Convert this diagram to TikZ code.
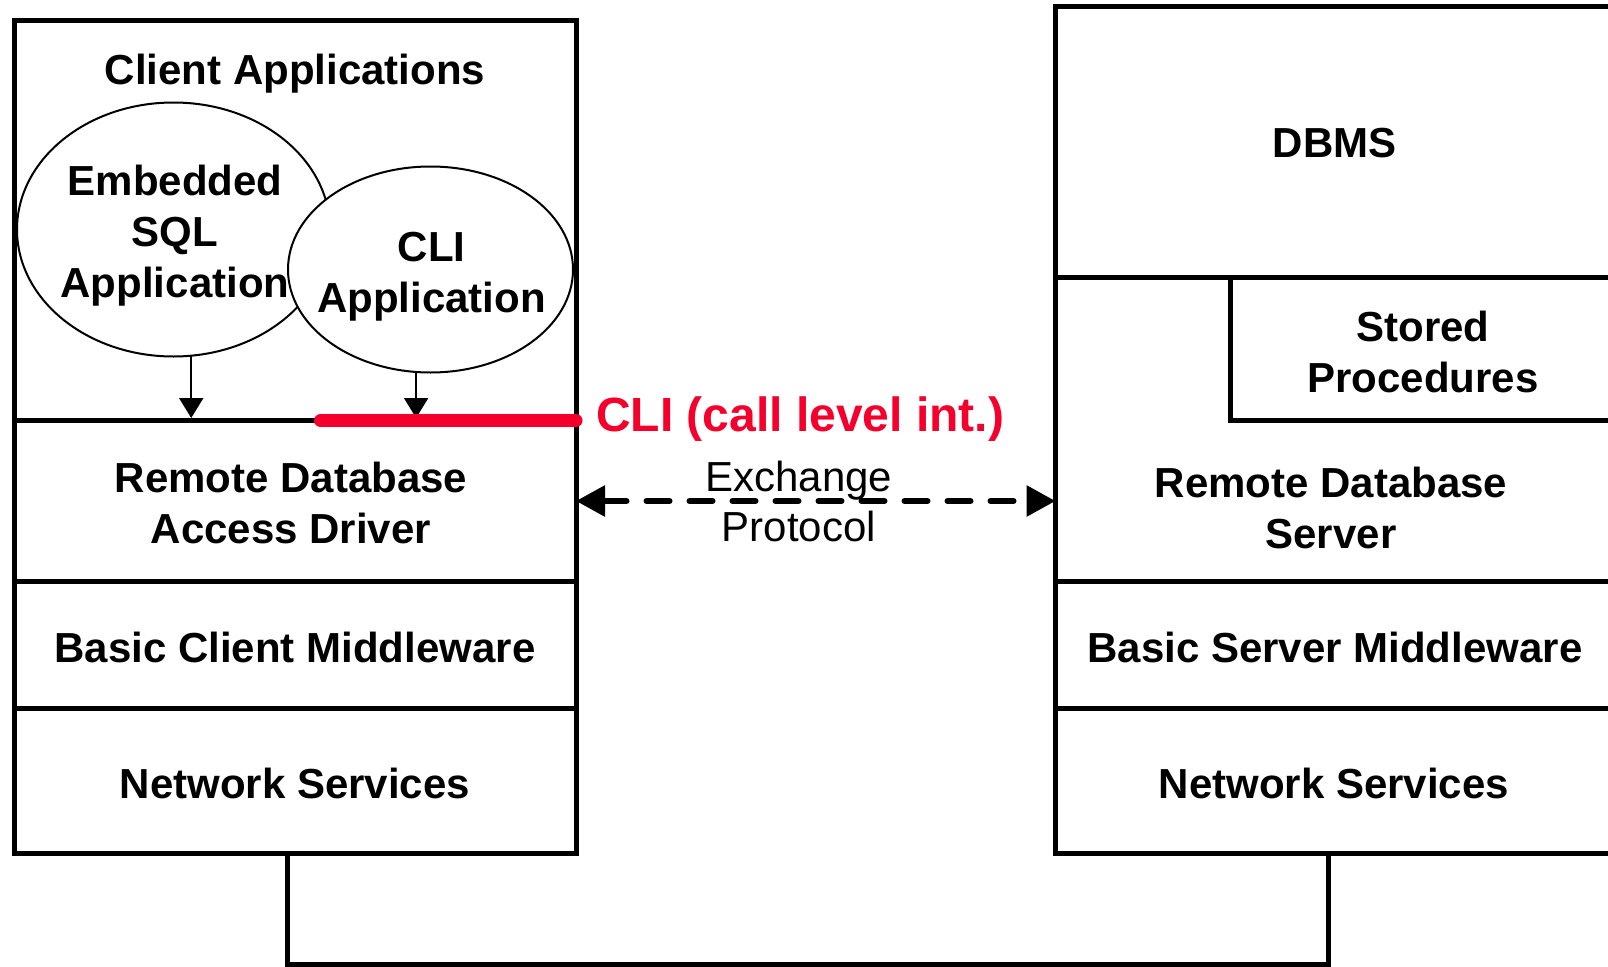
\documentclass[tikz,border=0pt]{standalone}
\usepackage{fontspec}
\setmainfont{Liberation Sans}
\usetikzlibrary{arrows.meta,shapes.geometric,calc}
\definecolor{clired}{RGB}{245,0,45}
\begin{document}
\begin{tikzpicture}[x=1pt,y=-1pt,
  layer/.style={draw, line width=5pt, rectangle, inner sep=0pt, outer sep=0pt},
  app/.style={draw, ellipse, line width=2pt, fill=white, inner sep=0pt, outer sep=0pt},
  lbl/.style={font=\bfseries\fontsize{42}{51}\selectfont, align=center, inner sep=0pt, anchor=north},
  plainlbl/.style={font=\fontsize{42}{50}\selectfont, align=center, inner sep=0pt, anchor=north},
  callarrow/.style={line width=2pt, -{Triangle[length=20pt,width=24pt]}},
  xchg/.style={line width=6pt, line cap=round, dash pattern=on 23pt off 20pt,
    {Triangle[length=29pt,width=30pt]}-{Triangle[length=29pt,width=30pt]}},
  wire/.style={line width=5pt},
  cliline/.style={draw=clired, line width=13pt, line cap=round}]

\fill[white] (0,0) rectangle (1608,966);
\useasboundingbox (0,0) rectangle (1608,966);

% application bubbles
\node[app, minimum width=313pt, minimum height=254pt] (esql) at (173.5,229.5) {};
\node[app, minimum width=285pt, minimum height=206pt] (cliapp) at (430.5,269.5) {};

% client stack
\node[layer, minimum width=561.5pt, minimum height=399.5pt] (capps)  at (295.25,220.75) {};
\node[layer, minimum width=561.5pt, minimum height=161pt]   (driver) at (295.25,501) {};
\node[layer, minimum width=561.5pt, minimum height=127pt]   (cmw)    at (295.25,645) {};
\node[layer, minimum width=561.5pt, minimum height=144.5pt] (cnet)   at (295.25,780.75) {};

% server stack
\node[layer, minimum width=558.5pt, minimum height=270.5pt] (dbms)    at (1334.75,141.75) {};
\node[layer, minimum width=558.5pt, minimum height=304.5pt] (rserver) at (1334.75,429.25) {};
\node[layer, minimum width=383.5pt, minimum height=143.5pt] (stored)  at (1422.25,348.75) {};
\node[layer, minimum width=558.5pt, minimum height=127pt]   (smw)     at (1334.75,645) {};
\node[layer, minimum width=558.5pt, minimum height=144.5pt] (snet)    at (1334.75,780.75) {};

% labels
\node[lbl] (tcapps) at (295,54) {Client Applications};
\node[lbl] (tesql) at (175,165) {Embedded\\SQL\\Application};
\node[lbl] (tcli) at (431.5,232) {CLI\\Application};
\node[lbl] (tdriver) at (291,462) {Remote Database\\Access Driver};
\node[lbl] (tcmw) at (295,632) {Basic Client Middleware};
\node[lbl] (tcnet) at (295,768) {Network Services};
\node[lbl] (tdbms) at (1334.5,128) {DBMS};
\node[lbl] (tstored) at (1423,311) {Stored\\Procedures};
\node[lbl] (trserver) at (1331,467) {Remote Database\\Server};
\node[lbl] (tsmw) at (1335,632) {Basic Server Middleware};
\node[lbl] (tsnet) at (1334,768) {Network Services};

% calls from the applications down to the driver layer
\coordinate (sep) at (14.5,418);
\draw[callarrow] (esql.-82.1) -- (esql.-82.1 |- sep);
\draw[callarrow] (cliapp.-98.8) -- (cliapp.-98.8 |- sep);

% call level interface
\coordinate (clistart) at (320.5,420.5);
\draw[cliline] (clistart) -- (driver.north east);
\node[anchor=base west, inner sep=0pt, text=clired,
      font=\bfseries\fontsize{48}{56}\selectfont] (tcliint) at (596,431.5) {CLI (call level int.)};

% exchange protocol
\draw[xchg] (driver.east) -- (driver.east -| rserver.west);
\node[plainlbl] (texch) at (798.7,460.5) {Exchange\\Protocol};

% network link between the two stacks
\coordinate (netL) at ($(cnet.south)+(-8.25,0)$);
\coordinate (netR) at ($(snet.south)+(-6.75,0)$);
\draw[wire] (netL) -- ++(0,111) -| (netR);

\end{tikzpicture}
\end{document}
